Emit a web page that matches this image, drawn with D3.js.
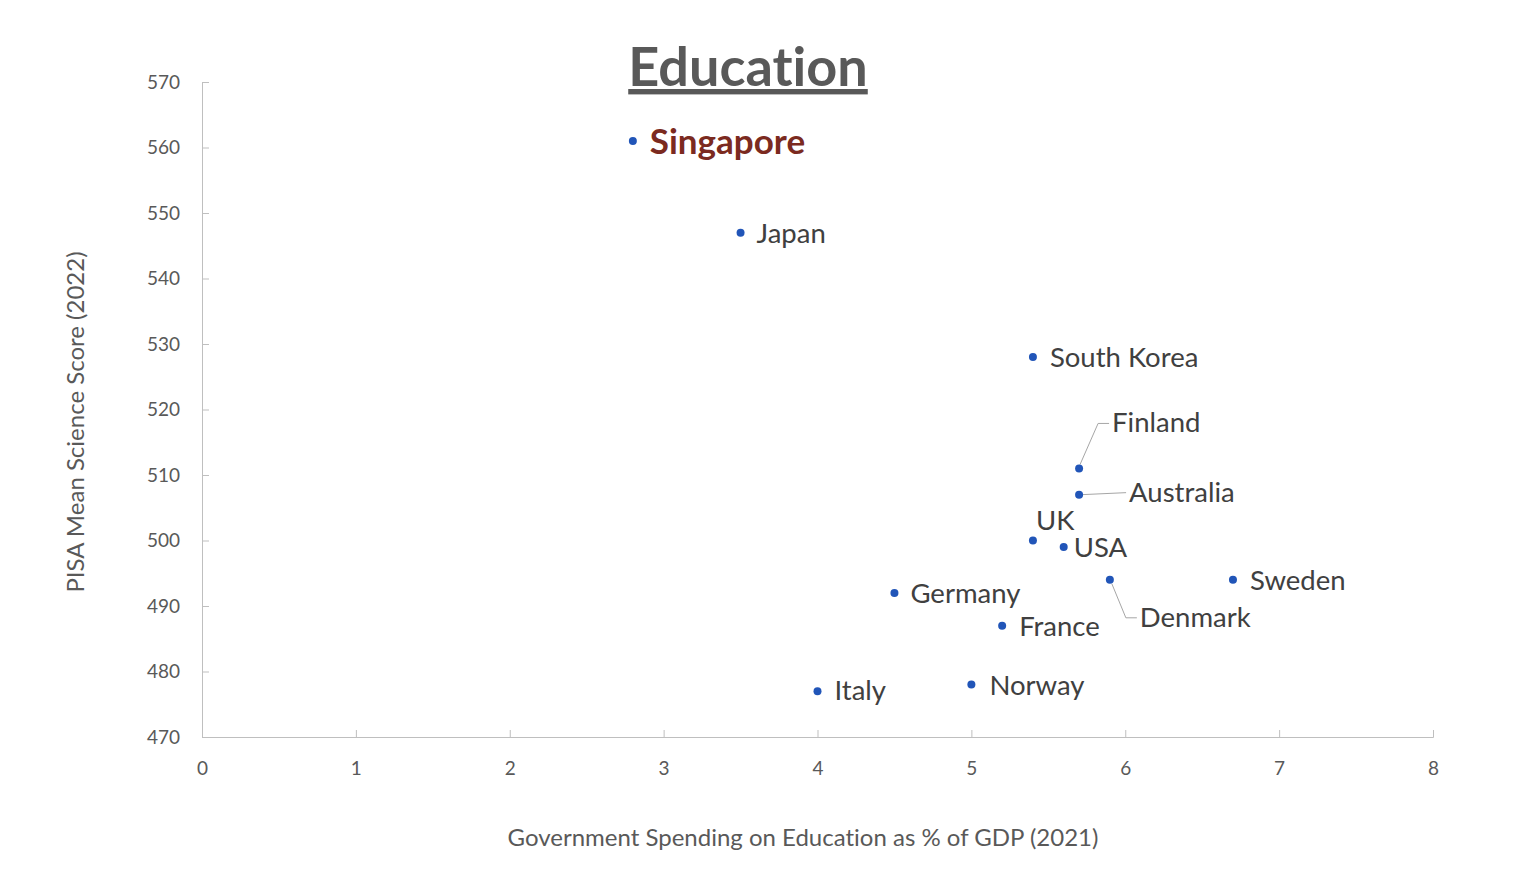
<!DOCTYPE html>
<html lang="en">
  <head>
    <meta charset="utf-8" />
    <script src="https://d3js.org/d3.v7.min.js"></script>
    <style>
      body {
        margin: 0;
        background: white;
      }
      text {
        font-variant-ligatures: none;
      }
      .axis path,
      .axis line {
        stroke: #bfbfbf;
      }
      .axis text {
        fill: #595959;
        font-family: Lato, "Open Sans", sans-serif;
        font-size: 19px;
      }
    </style>
    <title>Education</title>
  </head>

  <body>
    <svg id="chart" width="1528" height="896"></svg>

    <script>
      // values
      const countries = ["Singapore", "Japan", "South Korea", "Finland", "Australia", "UK", "USA",
        "Denmark", "Sweden", "Germany", "France", "Norway", "Italy"];
      const spending = [2.8, 3.5, 5.4, 5.7, 5.7, 5.4, 5.6, 5.9, 6.7, 4.5, 5.2, 5.0, 4.0];
      const scores = [561, 547, 528, 511, 507, 500, 499, 494, 494, 492, 487, 478, 477];
      const xTicks = [0, 1, 2, 3, 4, 5, 6, 7, 8];
      const yTicks = [470, 480, 490, 500, 510, 520, 530, 540, 550, 560, 570];

      // label placement (pixel offsets from each point), leader lines for a few
      const labelDx = [17, 16, 17, 33, 50, 3, 10, 30, 17, 16, 17, 18, 17];
      const labelDy = [0, 0, 0, -46, -3, -20, 0, 37, 0, 0, 0, 0, -1];
      const leaders = { Finland: "elbowUp", Australia: "straight", Denmark: "elbowDown" };

      const svg = d3.select("svg#chart");
      const margin = { top: 82, right: 95, bottom: 159, left: 202 };
      const width = 1528 - margin.left - margin.right;
      const height = 896 - margin.top - margin.bottom;

      const x = d3.scaleLinear().domain([0, 8]).range([0, width]);
      const y = d3.scaleLinear().domain([470, 570]).range([height, 0]);

      const g = svg.append("g")
        .attr("transform", `translate(${margin.left},${margin.top})`);

      g.append("g")
        .attr("class", "axis")
        .attr("transform", `translate(0,${height})`)
        .call(d3.axisBottom(x).tickValues(xTicks).tickSize(-7).tickSizeOuter(-7).tickPadding(22))
        .call(a => a.selectAll("text").attr("dy", "0.35em").attr("y", 31));

      g.append("g")
        .attr("class", "axis")
        .call(d3.axisLeft(y).tickValues(yTicks).tickSize(-7).tickSizeOuter(-7).tickPadding(22))
        .call(a => a.selectAll("text").attr("x", -22));

      g.selectAll(".axis .domain").attr("stroke", "#bfbfbf");

      const data = countries.map((c, i) => ({
        name: c,
        sx: spending[i],
        sy: scores[i],
        dx: labelDx[i],
        dy: labelDy[i],
      }));

      // leader lines
      data.forEach(d => {
        const kind = leaders[d.name];
        if (!kind) return;
        const px = x(d.sx), py = y(d.sy);
        const lx = px + d.dx - 3, ly = py + d.dy + 1;
        let pts;
        if (kind === "straight") pts = [[px + 3, py], [lx, ly]];
        else if (kind === "elbowUp") pts = [[px + 1, py - 4], [lx - 11, ly], [lx, ly]];
        else pts = [[px + 2, py + 4], [lx - 11, ly], [lx, ly]];
        g.append("path")
          .attr("d", d3.line()(pts))
          .attr("fill", "none")
          .attr("stroke", "#a6a6a6")
          .attr("stroke-width", 1);
      });

      g.selectAll("circle.pt")
        .data(data)
        .join("circle")
        .attr("class", "pt")
        .attr("cx", d => x(d.sx))
        .attr("cy", d => y(d.sy))
        .attr("r", 4)
        .attr("fill", "#2155b8");

      g.selectAll("text.lbl")
        .data(data)
        .join("text")
        .attr("class", "lbl")
        .attr("x", d => x(d.sx) + d.dx)
        .attr("y", d => y(d.sy) + d.dy)
        .attr("dy", "0.36em")
        .attr("font-family", "Lato, 'Open Sans', sans-serif")
        .attr("font-size", d => (d.name === "Singapore" ? "35px" : "27.5px"))
        .attr("font-weight", d => (d.name === "Singapore" ? "bold" : "normal"))
        .attr("fill", d => (d.name === "Singapore" ? "#7b2a20" : "#404040"))
        .text(d => d.name);

      // title
      svg.append("text")
        .attr("x", 748)
        .attr("y", 86)
        .attr("text-anchor", "middle")
        .attr("font-family", "Lato, 'Open Sans', sans-serif")
        .attr("font-size", "54px")
        .attr("font-weight", "bold")
        .attr("fill", "#595959")
        .attr("text-decoration", "underline")
        .text("Education");

      // axis titles
      svg.append("text")
        .attr("x", 803)
        .attr("y", 838)
        .attr("dy", "0.35em")
        .attr("text-anchor", "middle")
        .attr("font-family", "Lato, 'Open Sans', sans-serif")
        .attr("font-size", "24px")
        .attr("fill", "#595959")
        .text("Government Spending on Education as % of GDP (2021)");

      svg.append("text")
        .attr("transform", "translate(76,422) rotate(-90)")
        .attr("dy", "0.35em")
        .attr("text-anchor", "middle")
        .attr("font-family", "Lato, 'Open Sans', sans-serif")
        .attr("font-size", "24px")
        .attr("fill", "#595959")
        .text("PISA Mean Science Score (2022)");
    </script>
  </body>
</html>
